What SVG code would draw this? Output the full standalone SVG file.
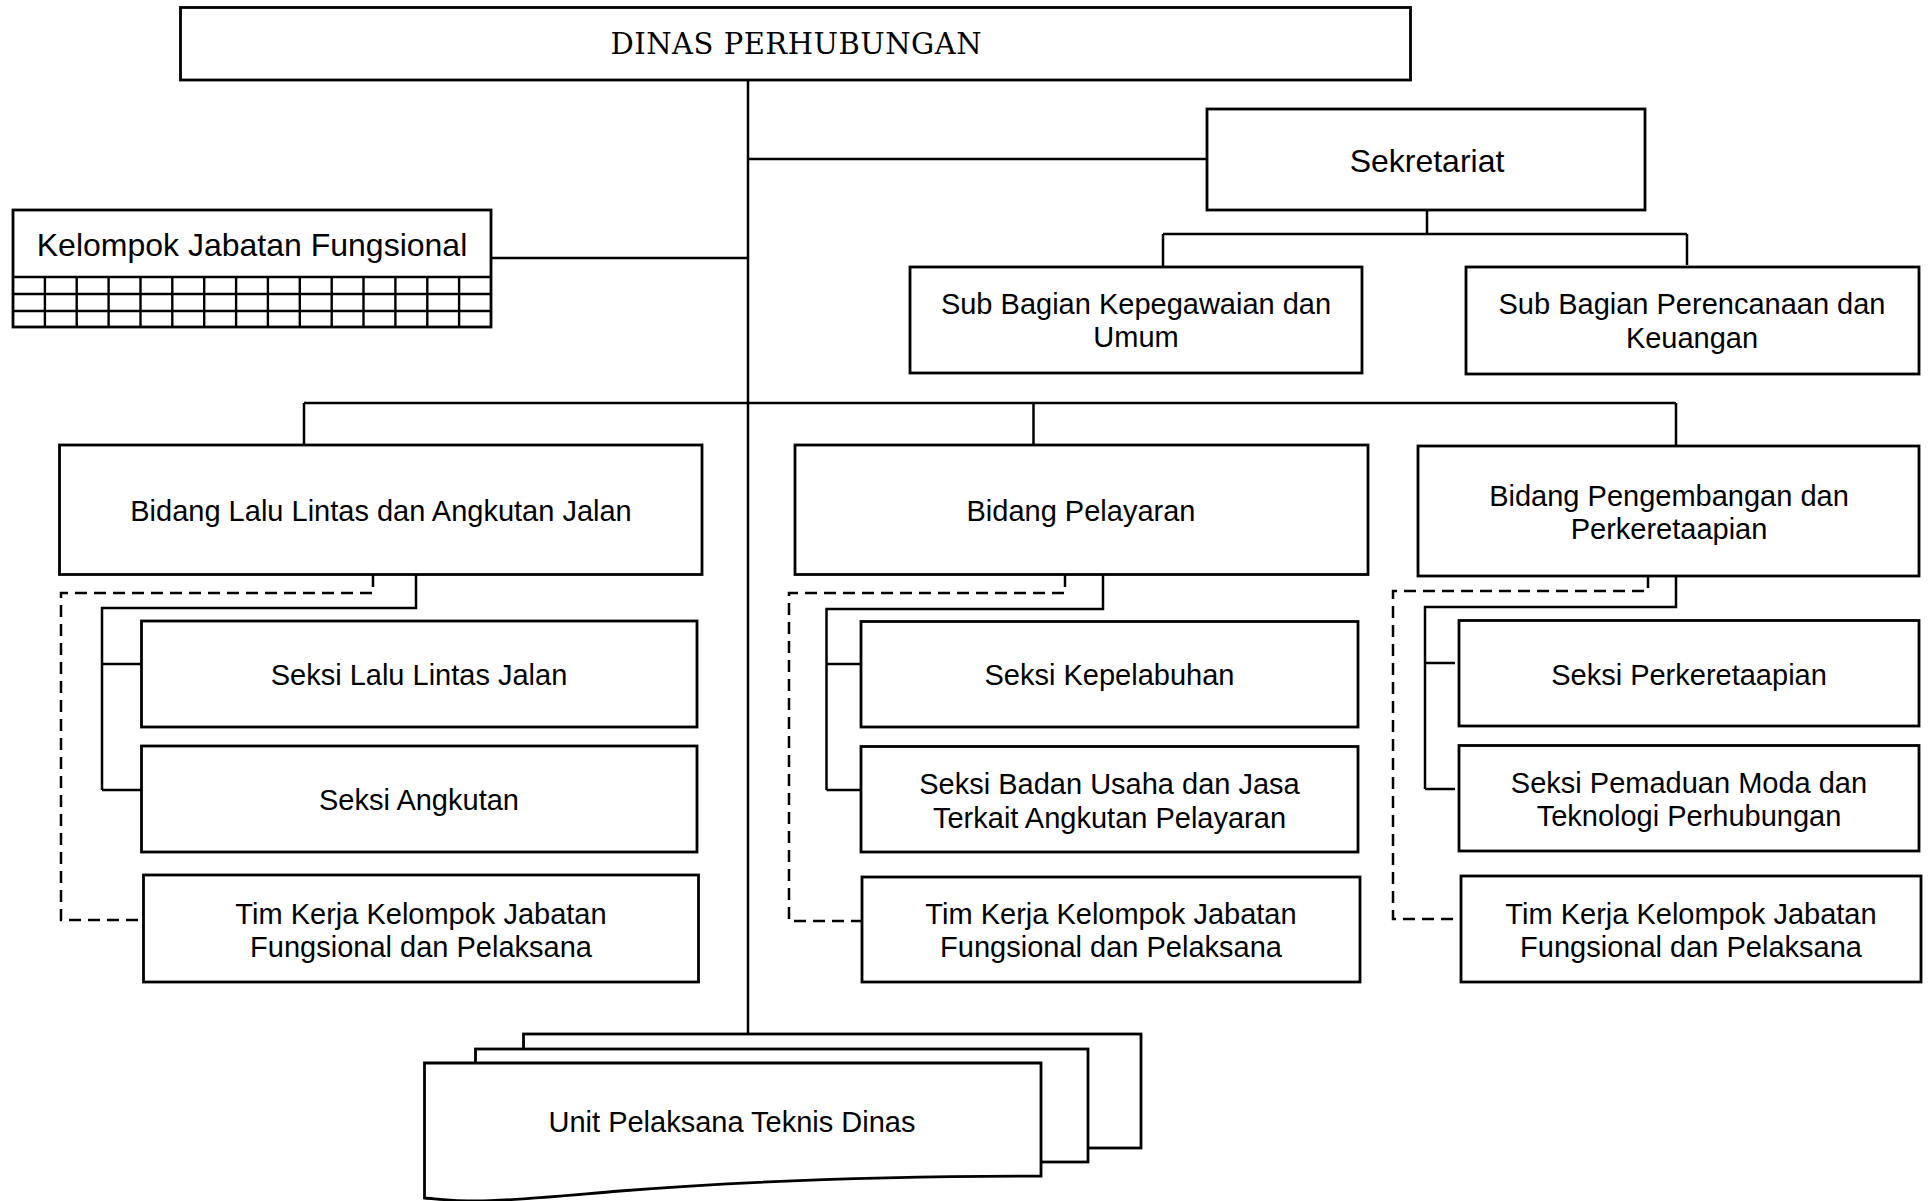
<svg xmlns="http://www.w3.org/2000/svg" width="1932" height="1201" viewBox="0 0 1932 1201">
  <style>
    .box { fill: #fff; stroke: #000; stroke-width: 2.8; }
    .grid { fill: none; stroke: #000; stroke-width: 2.4; }
    .ln { fill: none; stroke: #000; stroke-width: 2.5; }
    .dash { fill: none; stroke: #000; stroke-width: 2.5; stroke-dasharray: 12 7; }
    .t { font-family: "Liberation Sans", Arial, sans-serif; font-size: 29px; fill: #000; text-anchor: middle; }
    .tl { font-family: "Liberation Sans", Arial, sans-serif; font-size: 32px; fill: #000; text-anchor: middle; }
    .ts { font-family: "DejaVu Serif", "Liberation Serif", serif; font-size: 29px; fill: #000; text-anchor: middle; }
  </style>
  <rect width="1932" height="1201" fill="#fff"/>

  <!-- connectors -->
  <g id="connectors">
    <!-- main trunk -->
    <path class="ln" d="M748,80 V1034"/>
    <path class="ln" d="M748,159 H1207"/>
    <path class="ln" d="M491,258 H748"/>
    <!-- secretariat to sub sections -->
    <path class="ln" d="M1427,210 V234 M1163,234 H1687 M1163,234 V267 M1687,234 V265"/>
    <!-- bus to the three divisions -->
    <path class="ln" d="M304,403 H1676 M304,403 V445 M1033.5,403 V447 M1676,403 V446"/>
    <!-- Bidang Lalu Lintas -->
    <path class="ln" d="M416,575 V608 H102 V790 M102,664 H141.5 M102,790 H141.5"/>
    <path class="dash" d="M373,575 V593 H61 V920 H143"/>
    <!-- Bidang Pelayaran -->
    <path class="ln" d="M1103,575 V609 H826.5 V790 M826.5,664 H861 M826.5,790 H861"/>
    <path class="dash" d="M1065,575 V593 H789 V921 H862"/>
    <!-- Bidang Pengembangan -->
    <path class="ln" d="M1676,576 V607 H1425 V789 M1425,663 H1455 M1425,789 H1455"/>
    <path class="dash" d="M1648,576 V591 H1393 V919 H1461"/>
  </g>

  <g id="dinas">
    <rect class="box" x="180.5" y="7.5" width="1230" height="72.5"/>
    <text class="ts" x="796" y="54" textLength="371" lengthAdjust="spacing">DINAS PERHUBUNGAN</text>
  </g>

  <g id="sekretariat">
    <rect class="box" x="1207" y="109" width="438" height="101"/>
    <text class="tl" x="1427" y="171.5">Sekretariat</text>
  </g>

  <g id="kelompok-jabatan-fungsional">
    <rect class="box" x="13" y="210" width="478" height="117"/>
    <path class="grid" d="M13,277 H491 M13,294 H491 M13,311 H491
      M44.9,277 V327 M76.7,277 V327 M108.6,277 V327 M140.5,277 V327 M172.3,277 V327
      M204.2,277 V327 M236.1,277 V327 M267.9,277 V327 M299.8,277 V327 M331.7,277 V327
      M363.5,277 V327 M395.4,277 V327 M427.3,277 V327 M459.1,277 V327"/>
    <text class="tl" x="252" y="255.5">Kelompok Jabatan Fungsional</text>
  </g>

  <g id="subbag-kepegawaian">
    <rect class="box" x="910" y="267" width="452" height="106"/>
    <text class="t" x="1136" y="313.5">Sub Bagian Kepegawaian dan</text>
    <text class="t" x="1136" y="347">Umum</text>
  </g>

  <g id="subbag-perencanaan">
    <rect class="box" x="1466" y="267" width="453" height="107"/>
    <text class="t" x="1692" y="314">Sub Bagian Perencanaan dan</text>
    <text class="t" x="1692" y="348">Keuangan</text>
  </g>

  <!-- Bidang Lalu Lintas dan Angkutan Jalan -->
  <g id="bidang-llaj">
    <rect class="box" x="59.5" y="445" width="642.5" height="129.5"/>
    <text class="t" x="381" y="520.5">Bidang Lalu Lintas dan Angkutan Jalan</text>
  </g>
  <g id="seksi-lalu-lintas">
    <rect class="box" x="141.5" y="621" width="555.5" height="106"/>
    <text class="t" x="419" y="685">Seksi Lalu Lintas Jalan</text>
  </g>
  <g id="seksi-angkutan">
    <rect class="box" x="141.5" y="746" width="555.5" height="106"/>
    <text class="t" x="419" y="810">Seksi Angkutan</text>
  </g>
  <g id="timkerja-llaj">
    <rect class="box" x="143.5" y="875" width="555" height="107"/>
    <text class="t" x="421" y="923.5">Tim Kerja Kelompok Jabatan</text>
    <text class="t" x="421" y="957">Fungsional dan Pelaksana</text>
  </g>

  <!-- Bidang Pelayaran -->
  <g id="bidang-pelayaran">
    <rect class="box" x="795" y="445" width="573" height="129.5"/>
    <text class="t" x="1081" y="521">Bidang Pelayaran</text>
  </g>
  <g id="seksi-kepelabuhan">
    <rect class="box" x="861" y="621.5" width="497" height="105.5"/>
    <text class="t" x="1109.5" y="685">Seksi Kepelabuhan</text>
  </g>
  <g id="seksi-badan-usaha">
    <rect class="box" x="861" y="746.5" width="497" height="105.5"/>
    <text class="t" x="1109.5" y="794">Seksi Badan Usaha dan Jasa</text>
    <text class="t" x="1109.5" y="828">Terkait Angkutan Pelayaran</text>
  </g>
  <g id="timkerja-pelayaran">
    <rect class="box" x="862" y="877" width="498" height="105"/>
    <text class="t" x="1111" y="923.5">Tim Kerja Kelompok Jabatan</text>
    <text class="t" x="1111" y="957">Fungsional dan Pelaksana</text>
  </g>

  <!-- Bidang Pengembangan dan Perkeretaapian -->
  <g id="bidang-pengembangan">
    <rect class="box" x="1418" y="446" width="501" height="130"/>
    <text class="t" x="1669" y="505.5">Bidang Pengembangan dan</text>
    <text class="t" x="1669" y="539">Perkeretaapian</text>
  </g>
  <g id="seksi-perkeretaapian">
    <rect class="box" x="1459" y="620.5" width="460" height="105.5"/>
    <text class="t" x="1689" y="684.5">Seksi Perkeretaapian</text>
  </g>
  <g id="seksi-pemaduan-moda">
    <rect class="box" x="1459" y="745.5" width="460" height="105.5"/>
    <text class="t" x="1689" y="792.5">Seksi Pemaduan Moda dan</text>
    <text class="t" x="1689" y="826">Teknologi Perhubungan</text>
  </g>
  <g id="timkerja-pengembangan">
    <rect class="box" x="1461" y="876" width="460" height="106"/>
    <text class="t" x="1691" y="923.5">Tim Kerja Kelompok Jabatan</text>
    <text class="t" x="1691" y="957">Fungsional dan Pelaksana</text>
  </g>

  <!-- stacked document shape -->
  <g id="uptd">
    <rect class="box" x="523.5" y="1034" width="617.5" height="114"/>
    <rect class="box" x="475.5" y="1049" width="612.5" height="113"/>
    <path class="box" d="M424.5,1063 H1041 V1176 C900,1176 760,1180 620,1191 C560,1196 510,1201 476,1201 C455,1201 438,1199 424.5,1198 Z"/>
    <text class="t" x="732" y="1132">Unit Pelaksana Teknis Dinas</text>
  </g>
</svg>
